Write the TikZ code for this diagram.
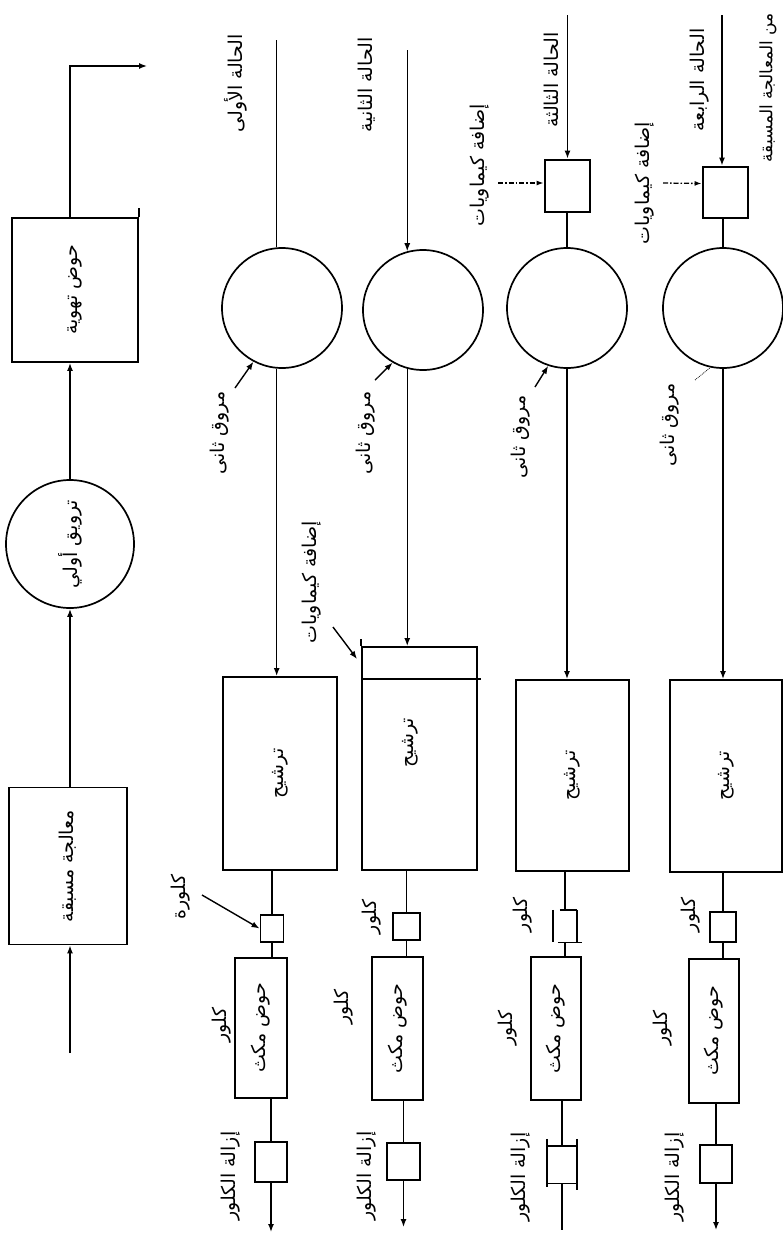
\documentclass[tikz,border=0pt]{standalone}
\usepackage{fontspec}
\newfontfamily\arabicfont[Script=Arabic]{DejaVu Sans}
\TeXXeTstate=1
\usetikzlibrary{arrows.meta}
\newcommand{\rtxt}[1]{\rotatebox{90}{\arabicfont\beginR #1\endR}}
\begin{document}
\begin{tikzpicture}[x=1pt,y=-1pt,
  every node/.style={inner sep=0pt, font=\fontsize{19}{22}\selectfont},
  box/.style={draw, line width=1.9pt},
  mixbox/.style={draw, line width=2.8pt},
  circ/.style={draw, circle, line width=1.7pt},
  ln/.style={line width=1.4pt},
  arr/.style={line width=1.4pt, -{Latex[length=8pt,width=6pt]}},
  dashdot/.style={line width=1.3pt, dash pattern=on 5pt off 2pt on 1.5pt off 2pt, -{Latex[length=7pt,width=5pt]}},
  lab/.style={}]
\useasboundingbox (0,0) rectangle (783,1240);

% ---------- top line: pre-treatment, clarification, aeration ----------
\coordinate (in) at (70,1053);
\node[box, minimum width=118pt, minimum height=157pt] (pre) at (68,866) {\rtxt{معالجة مسبقة}};
\node[circ, minimum size=128pt] (clar) at (70,544) {\rtxt{ترويق أولي}};
\node[box, minimum width=126pt, minimum height=144pt] (aer) at (75,290) {\rtxt{حوض تهوية}};
\coordinate (out) at (147,66);
\draw[arr] (in) -- (in |- pre.south);
\draw[arr] (in |- pre.north) -- (in |- clar.south);
\draw[arr] (in |- clar.north) -- (in |- aer.south);
\draw[arr] (in |- aer.north) |- (out);
\draw[box] (aer.north east) -- ++(0,-9);

% ---------- case 1 ----------
\node[lab] (lab1) at (236,83) {\rtxt{الحالة الأولى}};
\coordinate (t1) at (277,40);
\node[circ, minimum size=120pt] (c1) at (282,308) {};
\node[box, minimum width=114pt, minimum height=193pt] (f1) at (280,773.5) {\rtxt{ترشيح}};
\node[box, minimum width=23pt, minimum height=27pt] (cl1) at (272,928.5) {};
\node[box, minimum width=52pt, minimum height=140pt] (ct1) at (261,1028) {\rtxt{حوض مكث}};
\node[box, minimum width=32pt, minimum height=40pt] (dc1) at (271,1162) {};
\coordinate (e1) at (271,1232);
\draw[ln] (c1.95 |- t1) -- (c1.95);
\draw[arr] (c1.265) -- (c1.265 |- f1.north);
\draw[ln] (cl1.north |- f1.south) -- (cl1.north);
\draw[ln] (cl1.south) -- (cl1.south |- ct1.north);
\draw[ln] (dc1.north |- ct1.south) -- (dc1.north);
\draw[arr] (dc1.south) -- (e1);
\node[lab] (sec1) at (220,433) {\rtxt{مروق ثانى}};
\coordinate (s1) at (235,388);
\draw[arr] (s1) -- (c1.242);
\node[lab] (chl1) at (181,897) {\rtxt{كلورة}};
\coordinate (k1s) at (202,895);
\draw[arr] (k1s) -- (cl1.west);
\node[lab] (kt1) at (222,1025) {\rtxt{كلور}};
\node[lab] (dl1) at (231,1176) {\rtxt{إزالة الكلور}};

% ---------- case 2 ----------
\node[lab] (lab2) at (367,85) {\rtxt{الحالة الثانية}};
\coordinate (t2) at (407,50);
\node[circ, minimum size=120pt] (c2) at (423,310) {};
\node[box, minimum width=115pt, minimum height=223pt] (f2) at (419.5,758.5) {};
\node (f2t) at (410,743) {\rtxt{ترشيح}};
\draw[box] ([yshift=-33pt]f2.north west) -- ([xshift=3pt,yshift=-33pt]f2.north east);
\draw[box] (f2.north west) -- ++(0,-7);
\node[box, minimum width=27pt, minimum height=27pt] (cl2) at (406.5,926.5) {};
\node[box, minimum width=51pt, minimum height=143pt] (ct2) at (397.5,1028.5) {\rtxt{حوض مكث}};
\node[box, minimum width=33pt, minimum height=37pt] (dc2) at (403.5,1161.5) {};
\coordinate (e2) at (403.5,1227);
\draw[arr] (c2.105 |- t2) -- (c2.105);
\draw[arr] (c2.255) -- (c2.255 |- f2.north);
\draw[ln] (cl2.north |- f2.south) -- (cl2.north);
\draw[ln] (cl2.south) -- (cl2.south |- ct2.north);
\draw[ln] (dc2.north |- ct2.south) -- (dc2.north);
\draw[arr] (dc2.south) -- (e2);
\node[lab] (sec2) at (366,433) {\rtxt{مروق ثانى}};
\coordinate (s2) at (375,380);
\draw[arr] (s2) -- (c2.240);
\node[lab] (add2) at (312,582) {\rtxt{إضافة كيماويات}};
\coordinate (a2) at (333,627);
\draw[arr] (a2) -- ([xshift=-4pt,yshift=-13pt]f2.north west);
\node[lab] (k2) at (372,917) {\rtxt{كلور}};
\node[lab] (kt2) at (344,1007) {\rtxt{كلور}};
\node[lab] (dl2) at (367,1176) {\rtxt{إزالة الكلور}};

% ---------- case 3 ----------
\node[lab] (lab3) at (551,80) {\rtxt{الحالة الثالثة}};
\coordinate (t3) at (567,15);
\node[mixbox, minimum width=45pt, minimum height=52pt] (m3) at (567.5,186) {};
\node[circ, minimum size=120pt] (c3) at (567,308) {};
\node[box, minimum width=113pt, minimum height=191pt] (f3) at (572.5,775.5) {\rtxt{ترشيح}};
\node[minimum width=24pt, minimum height=32pt] (cl3) at (565,926) {};
\draw[box] (cl3.north west) -- (cl3.south west);
\draw[box] (cl3.north east) -- (cl3.south east);
\draw[ln] ([xshift=7pt]cl3.north west) -- (cl3.north east);
\draw[ln] ([xshift=5pt]cl3.south west) -- ([xshift=5pt]cl3.south east);
\node[box, minimum width=50pt, minimum height=143pt] (ct3) at (556,1028.5) {\rtxt{حوض مكث}};
\node[minimum width=30pt, minimum height=45pt] (dc3) at (562,1164.5) {};
\draw[box] ([yshift=3pt]dc3.north west) -- (dc3.south west);
\draw[box] ([yshift=3pt]dc3.north east) -- ([yshift=-3pt]dc3.south east);
\draw[ln] ([yshift=-4pt]dc3.north west) -- ([yshift=-4pt]dc3.north east);
\draw[ln] ([yshift=4pt]dc3.south west) -- ([yshift=4pt]dc3.south east);
\coordinate (e3) at (562,1230);
\draw[arr] (m3.north |- t3) -- (m3.north);
\draw[ln] (c3.north |- m3.south) -- (c3.north);
\draw[arr] (c3.south) -- (c3.south |- f3.north);
\draw[ln] (cl3.north |- f3.south) -- (cl3.north);
\draw[ln] (cl3.south) -- (cl3.south |- ct3.north);
\draw[ln] (dc3.north |- ct3.south) -- ([yshift=-4pt]dc3.north);
\draw[ln] ([yshift=4pt]dc3.south) -- (e3);
\node[lab] (sec3) at (521,437) {\rtxt{مروق ثانى}};
\coordinate (s3) at (535,387);
\draw[arr] (s3) -- (c3.252);
\node[lab] (add3) at (480,165) {\rtxt{إضافة كيماويات}};
\coordinate (a3) at (498,183);
\draw[dashdot] (a3) -- ([yshift=3pt]m3.west);
\node[lab] (k3) at (523,915) {\rtxt{كلور}};
\node[lab] (kt3) at (508,1028) {\rtxt{كلور}};
\node[lab] (dl3) at (521,1177) {\rtxt{إزالة الكلور}};

% ---------- case 4 ----------
\node[lab] (lab4) at (700,80) {\rtxt{الحالة الرابعة}};
\node[lab, font=\fontsize{17}{20}\selectfont] (from) at (768,88) {\rtxt{من المعالجة المسبقة}};
\coordinate (t4) at (722,15);
\node[mixbox, minimum width=45pt, minimum height=51pt] (m4) at (725.5,192.5) {};
\node[circ, minimum size=120pt] (c4) at (723,308) {};
\node[box, minimum width=112pt, minimum height=192pt] (f4) at (726,776) {\rtxt{ترشيح}};
\node[box, minimum width=26pt, minimum height=30pt] (cl4) at (723,927) {};
\node[box, minimum width=50pt, minimum height=144pt] (ct4) at (714,1031) {\rtxt{حوض مكث}};
\node[box, minimum width=32pt, minimum height=38pt] (dc4) at (716,1164) {};
\coordinate (e4) at (716,1230);
\draw[arr] (t4) -- (t4 |- m4.north);
\draw[ln] (c4.north |- m4.south) -- (c4.north);
\draw[arr] (c4.south) -- (c4.south |- f4.north);
\draw[ln] (cl4.north |- f4.south) -- (cl4.north);
\draw[ln] (cl4.south) -- (cl4.south |- ct4.north);
\draw[ln] (dc4.north |- ct4.south) -- (dc4.north);
\draw[arr] (dc4.south) -- (e4);
\node[lab] (sec4) at (670,425) {\rtxt{مروق ثانى}};
\coordinate (s4) at (695,380);
\draw[line width=0.8pt, densely dotted] (s4) -- (c4.258);
\node[lab] (add4) at (645,183) {\rtxt{إضافة كيماويات}};
\coordinate (a4) at (663,183);
\draw[dashdot] (a4) -- ([yshift=9pt]m4.west);
\node[lab] (k4) at (691,915) {\rtxt{كلور}};
\node[lab] (kt4) at (663,1028) {\rtxt{كلور}};
\node[lab] (dl4) at (675,1177) {\rtxt{إزالة الكلور}};
\end{tikzpicture}
\end{document}
